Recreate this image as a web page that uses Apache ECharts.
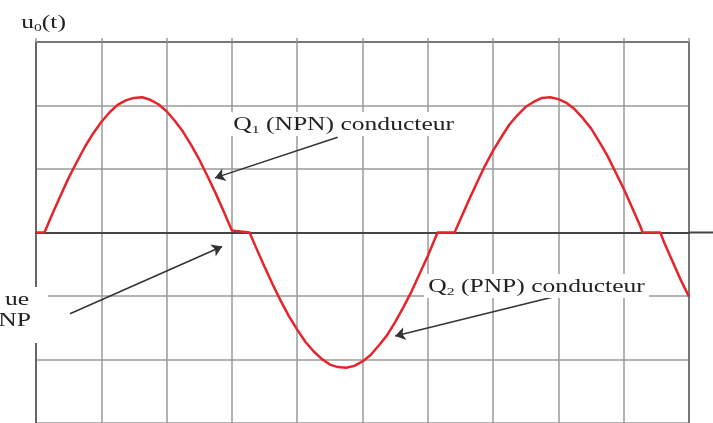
<!DOCTYPE html>
<html>
<head>
<meta charset="utf-8">
<script src="https://cdn.jsdelivr.net/npm/echarts@6/dist/echarts.min.js"></script>
<style>
html,body{margin:0;padding:0;background:#fff;}
#c{width:713px;height:423px;}
</style>
</head>
<body>
<div id="c"></div>
<script>
// time axis in grid divisions, output voltage u0(t) in grid divisions
const tValues = [0, 0.13, 0.25, 0.375, 0.5, 0.625, 0.75, 0.875, 1.0, 1.125, 1.25, 1.375, 1.5, 1.625, 1.75, 1.875, 2.0, 2.125, 2.25, 2.375, 2.5, 2.625, 2.75, 2.875, 3.0, 3.01,
  3.27, 3.375, 3.5, 3.625, 3.75, 3.875, 4.0, 4.125, 4.25, 4.375, 4.5, 4.625, 4.75, 4.875, 5.0, 5.125, 5.25, 5.375, 5.5, 5.625, 5.75, 5.875, 6.0, 6.125, 6.15,
  6.41, 6.5, 6.625, 6.75, 6.875, 7.0, 7.125, 7.25, 7.375, 7.5, 7.625, 7.75, 7.875, 8.0, 8.125, 8.25, 8.375, 8.5, 8.625, 8.75, 8.875, 9.0, 9.125, 9.25, 9.29,
  9.56, 9.625, 9.75, 9.875, 10.0];
const uValues = [0, 0, 0.29, 0.58, 0.86, 1.11, 1.35, 1.56, 1.74, 1.89, 2.01, 2.08, 2.12, 2.13, 2.09, 2.02, 1.91, 1.76, 1.59, 1.38, 1.15, 0.89, 0.62, 0.33, 0.03, 0,
  0, -0.25, -0.54, -0.82, -1.08, -1.32, -1.53, -1.72, -1.87, -1.99, -2.08, -2.12, -2.13, -2.10, -2.03, -1.93, -1.78, -1.62, -1.41, -1.18, -0.93, -0.65, -0.37, -0.06, 0,
  0, 0.21, 0.50, 0.78, 1.05, 1.29, 1.50, 1.70, 1.85, 1.98, 2.06, 2.12, 2.13, 2.10, 2.04, 1.94, 1.80, 1.64, 1.43, 1.21, 0.95, 0.69, 0.40, 0.11, 0,
  0, -0.17, -0.46, -0.75, -1.01];
// annotation arrows: [from, to] in data units
const arrowQ1 = [[4.62, 1.50], [2.74, 0.86]];
const arrowQ2 = [[7.98, -1.00], [5.50, -1.63]];
const arrowDead = [[0.52, -1.28], [2.85, -0.22]];

const data = tValues.map((t, i) => [t, uValues[i]]);
const chart = echarts.init(document.getElementById('c'), null, {renderer: 'canvas'});
const serif = 'Liberation Serif';
const txtColor = '#222';
function label(text, sub, rest, x, y, align) {
  return {
    type: 'text', x: x, y: y, scaleX: 1.42, z: 100,
    style: {
      text: '{a|' + text + '}{b|' + sub + '}{a|' + rest + '}',
      textAlign: align || 'left',
      textVerticalAlign: 'top',
      backgroundColor: '#fff',
      padding: [2, 3],
      rich: {
        a: {fontFamily: serif, fontSize: 18, fill: txtColor, lineHeight: 20, verticalAlign: 'bottom'},
        b: {fontFamily: serif, fontSize: 11, fill: txtColor, lineHeight: 20, verticalAlign: 'bottom', padding:[0,0,-2,0]}
      }
    }
  };
}
const option = {
  animation: false,
  backgroundColor: '#fff',
  grid: {left: 36, top: 42, width: 653, height: 383},
  xAxis: [{
    type: 'value', min: 0, max: 10, interval: 1,
    axisLine: {onZero: true, lineStyle: {color: '#444', width: 2}},
    axisTick: {show: false}, axisLabel: {show: false},
    splitLine: {show: true, lineStyle: {color: '#9a9a9a', width: 1.5}}
  }, {
    type: 'value', min: 0, max: 10, interval: 1, position: 'top',
    axisLine: {show: true, onZero: false, lineStyle: {color: '#777', width: 2}},
    axisTick: {show: true, length: 4, lineStyle: {color: '#999', width: 1.5}},
    axisLabel: {show: false}, splitLine: {show: false}
  }],
  yAxis: [{
    type: 'value', min: -3, max: 3, interval: 1,
    axisLine: {show: true, onZero: false, lineStyle: {color: '#666', width: 2}},
    axisTick: {show: false}, axisLabel: {show: false},
    splitLine: {show: true, lineStyle: {color: '#9a9a9a', width: 1.5}}
  }, {
    type: 'value', min: -3, max: 3, interval: 1, position: 'right',
    axisLine: {show: true, onZero: false, lineStyle: {color: '#777', width: 2}},
    axisTick: {show: false}, axisLabel: {show: false}, splitLine: {show: false}
  }],
  series: [{
    type: 'line', data: data, symbol: 'none', smooth: false,
    lineStyle: {color: '#e5242b', width: 2.5, join: 'round'},
    z: 5,
    markLine: {
      silent: true, symbol: ['none', 'arrow'], symbolSize: 10,
      label: {show: false},
      lineStyle: {color: '#333', width: 1.5, type: 'solid'},
      emphasis: {disabled: true},
      data: [
        [{coord: arrowQ1[0]}, {coord: arrowQ1[1]}],
        [{coord: arrowQ2[0]}, {coord: arrowQ2[1]}],
        [{coord: arrowDead[0]}, {coord: arrowDead[1]}]
      ]
    }
  }]
};
chart.setOption(option);
const pEnd = chart.convertToPixel({gridIndex: 0}, [10, 0]);
chart.setOption({
  graphic: [
    {type: 'line', z: 50, shape: {x1: pEnd[0], y1: pEnd[1], x2: 713, y2: pEnd[1]}, style: {stroke: '#444', lineWidth: 2}},
    {type: 'rect', z: 90, shape: {x: 0, y: 287, width: 48, height: 56}, style: {fill: '#fff'}},
    label('u', '0', '(t)', 17, 10),
    label('Q', '1', ' (NPN) conducteur', 229, 112),
    label('Q', '2', ' (PNP) conducteur', 424, 274),
    {type: 'text', x: 29, y: 291, scaleX: 1.42, z: 100, style: {text: 'ue', textAlign: 'right', textVerticalAlign: 'top', fontFamily: serif, fontSize: 18, fill: txtColor}},
    {type: 'text', x: 31, y: 312, scaleX: 1.42, z: 100, style: {text: 'NP', textAlign: 'right', textVerticalAlign: 'top', fontFamily: serif, fontSize: 18, fill: txtColor}}
  ]
});
</script>
</body>
</html>
